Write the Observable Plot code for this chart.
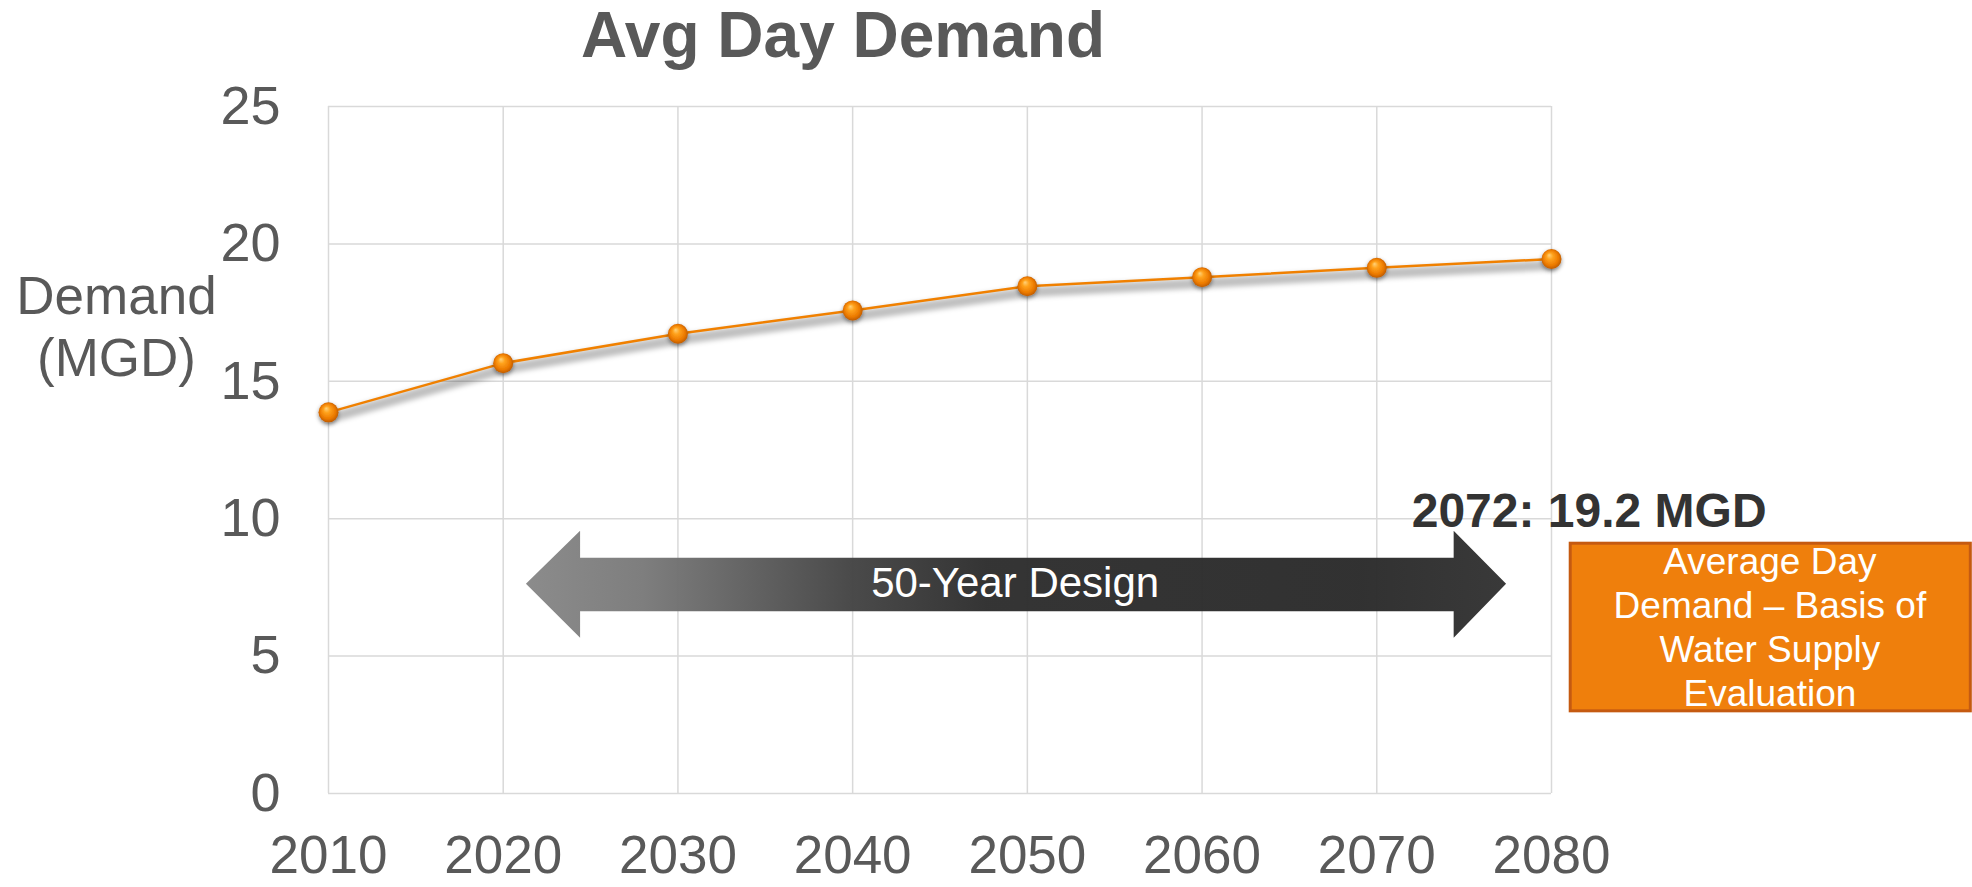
<!DOCTYPE html>
<html>
<head>
<meta charset="utf-8">
<script src="https://cdn.jsdelivr.net/npm/d3@7"></script>
<script src="https://cdn.jsdelivr.net/npm/@observablehq/plot@0.6"></script>
<style>
  html, body { margin: 0; padding: 0; background: #fff; }
  #wrap { width: 1972px; height: 887px; position: relative; overflow: hidden; font-family: "Liberation Sans", Arial, sans-serif; }
  #title { width: 1686px; height: 80px; line-height: 71px; text-align: center; font-weight: bold; font-size: 64px; color: #595959; }
</style>
</head>
<body>
<div id="wrap">
  <div id="title">Avg Day Demand</div>
  <div id="chart"></div>
</div>
<script>
// ---- data ----
const years = [2010, 2020, 2030, 2040, 2050, 2060, 2070, 2080];
const demand = [13.87, 15.66, 16.73, 17.58, 18.46, 18.79, 19.13, 19.45];
const yTicks = [0, 5, 10, 15, 20, 25];
const yLabel = "Demand\n(MGD)";

// 50-year design arrow outline (year, MGD)
const arrowYear = [2021.3, 2024.4, 2024.4, 2074.4, 2074.4, 2077.4, 2074.4, 2074.4, 2024.4, 2024.4];
const arrowMGD  = [7.63, 9.56, 8.58, 8.58, 9.56, 7.63, 5.67, 6.63, 6.63, 5.67];
const arrowLabel = "50-Year Design";
const arrowLabelAt = [2049.3, 7.63];

const noteLabel = "2072: 19.2 MGD";
const noteAt = [2072, 9.7];

const boxYears = [2081.1, 2104.0];
const boxMGD = [2.99, 9.09];
const boxLabel = "Average Day\nDemand \u2013 Basis of\nWater Supply\nEvaluation";
const boxLabelAt = [2092.5, 3.17];

// ---- tables ----
const series = years.map((y, i) => ({year: y, demand: demand[i]}));
const arrow = arrowYear.map((x, i) => ({x, y: arrowMGD[i]}));
const box = [{x1: boxYears[0], x2: boxYears[1], y1: boxMGD[0], y2: boxMGD[1]}];

const font = "'Liberation Sans', Arial, sans-serif";
const grey = "#595959";
const gridColor = "#d9d9d9";

const chart = Plot.plot({
  width: 1972,
  height: 807,
  marginTop: 26,
  marginBottom: 94,
  marginLeft: 328,
  marginRight: 421,
  style: {fontFamily: font, background: "transparent", color: grey, overflow: "visible"},
  x: {domain: [2010, 2080]},
  y: {domain: [0, 25]},
  marks: [
    Plot.gridY(yTicks, {stroke: gridColor, strokeOpacity: 1, strokeWidth: 1.5}),
    Plot.gridX(years, {stroke: gridColor, strokeOpacity: 1, strokeWidth: 1.5}),
    Plot.axisY(yTicks, {tickSize: 0, tickPadding: 48, fontSize: 54, color: grey, label: null}),
    Plot.axisX(years, {tickSize: 0, tickPadding: 42, fontSize: 53, color: grey, label: null, tickFormat: d3.format("d")}),
    Plot.text([yLabel], {text: d => d, frameAnchor: "top-left", dx: -212, dy: 269, lineAnchor: "bottom", lineHeight: 1.17, fontSize: 53, textAnchor: "middle", fill: grey}),
    // line shadow (1st line mark)
    Plot.line(series, {x: "year", y: "demand", stroke: "#000", strokeOpacity: 0.25, strokeWidth: 10, dy: 6}),
    // main line (2nd line mark)
    Plot.line(series, {x: "year", y: "demand", stroke: "#F08000", strokeWidth: 2.5}),
    Plot.dot(series, {x: "year", y: "demand", r: 10, fill: "url(#sphere)", stroke: "none"}),
    // arrow (3rd line mark)
    Plot.line(arrow, {x: "x", y: "y", fill: "url(#arrowGrad)", stroke: "none", curve: "linear-closed"}),
    Plot.text([arrowLabel], {text: d => d, x: () => arrowLabelAt[0], y: () => arrowLabelAt[1], fill: "#fff", fontSize: 42, lineAnchor: "middle"}),
    Plot.text([noteLabel], {text: d => d, x: () => noteAt[0], y: () => noteAt[1], fill: "#333333", fontSize: 48, fontWeight: "bold", textAnchor: "start", lineAnchor: "bottom"}),
    Plot.rect(box, {x1: "x1", x2: "x2", y1: "y1", y2: "y2", fill: "#EF7F0C", stroke: "#C55A11", strokeWidth: 3}),
    Plot.text([boxLabel], {text: d => d, x: () => boxLabelAt[0], y: () => boxLabelAt[1], fill: "#fff", fontSize: 37, lineHeight: 1.19, lineAnchor: "bottom", textAnchor: "middle"})
  ]
});

// defs: gradients and filters
const svg = d3.select(chart);
const defs = svg.insert("defs", ":first-child");
const sg = defs.append("radialGradient").attr("id", "sphere").attr("cx", "50%").attr("cy", "50%").attr("r", "55%").attr("fx", "38%").attr("fy", "30%");
[[0, "#ffd27a"], [0.3, "#ffa21c"], [0.7, "#ec7a00"], [1, "#b35400"]].forEach(([o, c]) => sg.append("stop").attr("offset", o).attr("stop-color", c));
const ag = defs.append("linearGradient").attr("id", "arrowGrad").attr("x1", 0).attr("x2", 1).attr("y1", 0).attr("y2", 0);
[[0, "#888888"], [0.12, "#7a7a7a"], [0.33, "#454545"], [0.47, "#2e2e2e"], [0.85, "#2b2b2b"], [1, "#333333"]].forEach(([o, c]) => ag.append("stop").attr("offset", o).attr("stop-color", c));
const blur = defs.append("filter").attr("id", "blur").attr("filterUnits", "userSpaceOnUse").attr("x", -50).attr("y", -50).attr("width", 2100).attr("height", 1000);
blur.append("feGaussianBlur").attr("stdDeviation", 2.5);
const ds = defs.append("filter").attr("id", "dotShadow").attr("x", "-60%").attr("y", "-60%").attr("width", "220%").attr("height", "220%");
ds.append("feDropShadow").attr("dx", 0).attr("dy", 2).attr("stdDeviation", 2).attr("flood-color", "#000").attr("flood-opacity", 0.45);

const lineGroups = svg.selectAll('g[aria-label="line"]').nodes();
if (lineGroups[0]) d3.select(lineGroups[0]).attr("filter", "url(#blur)");
if (lineGroups[2]) d3.select(lineGroups[2]).attr("opacity", 0.97);
svg.selectAll('g[aria-label="dot"] circle').attr("filter", "url(#dotShadow)");

document.getElementById("chart").appendChild(chart);
</script>
</body>
</html>
